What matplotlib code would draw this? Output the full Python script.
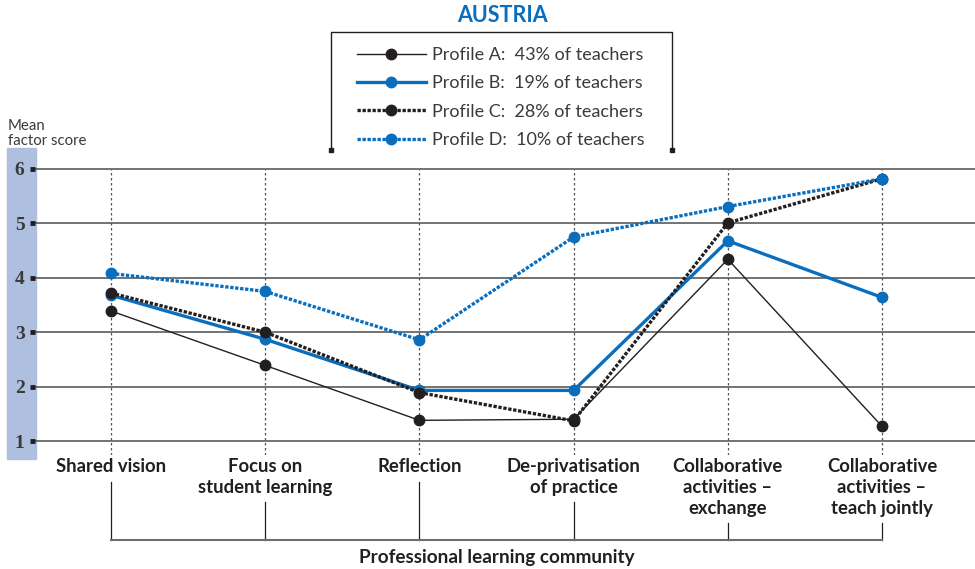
import matplotlib
matplotlib.use("Agg")
import matplotlib.pyplot as plt
from matplotlib.lines import Line2D
from matplotlib.patches import Rectangle

plt.rcParams['font.family'] = ['Lato', 'DejaVu Sans']

categories = ["Shared vision", "Focus on\nstudent learning", "Reflection",
              "De-privatisation\nof practice", "Collaborative\nactivities –\nexchange",
              "Collaborative\nactivities –\nteach jointly"]
profile_a = [3.39, 2.39, 1.38, 1.40, 4.34, 1.27]
profile_b = [3.68, 2.87, 1.93, 1.93, 4.68, 3.64]
profile_c = [3.72, 3.00, 1.89, 1.37, 5.01, 5.82]
profile_d = [4.08, 3.75, 2.86, 4.75, 5.31, 5.82]
labels = ["Profile A:  43% of teachers", "Profile B:  19% of teachers",
          "Profile C:  28% of teachers", "Profile D:  10% of teachers"]
yticks = [1, 2, 3, 4, 5, 6]

W, H = 975, 569
fig = plt.figure(figsize=(W / 100, H / 100), dpi=100)
BLACK = "#231f20"
BLUE = "#0a6ebd"


def fx(p):
    return p / W


def fy(p):
    return 1 - p / H


# blue band behind y tick labels
fig.patches.append(Rectangle((fx(7), fy(459)), fx(29), (459 - 148) / H,
                             transform=fig.transFigure, color="#aebfe0", zorder=-1))

ax = fig.add_axes([fx(35), fy(455), 1 - fx(35), (455 - 160) / H])
ax.set_zorder(1)
ax.set_facecolor("none")
x = list(range(len(categories)))
ylo = 1 - 14 / 54.4
yhi = 6 + 9 / 54.4
ax.set_ylim(ylo, yhi)
ax.set_xlim(-(111 - 35) / 154.2, 5 + (975 - 882) / 154.2)
for s in ax.spines.values():
    s.set_visible(False)

for yv in yticks:
    ax.axhline(yv, color="#4d4d4d", lw=1.1, zorder=1)
ax.vlines(x, ylo, 6, colors="#555555", lw=0.9, linestyles=(0, (2, 2)), zorder=1)

dot = (0, (1.0, 0.5))
ax.plot(x, profile_a, color=BLACK, lw=1.0, marker="o", ms=7.5, zorder=3, label=labels[0])
ax.plot(x, profile_b, color=BLUE, lw=2.4, marker="o", ms=7.5, zorder=3, label=labels[1])
ax.plot(x, profile_c, color=BLACK, lw=2.4, ls=dot, marker="o", ms=7.5, zorder=4, label=labels[2])
ax.plot(x, profile_d, color=BLUE, lw=2.4, ls=dot, marker="o", ms=7.5, zorder=4, label=labels[3])

ax.set_yticks(yticks)
ax.set_yticklabels([str(v) for v in yticks], fontfamily="Liberation Serif",
                   fontweight="bold", fontsize=14, color="#3a3a3a")
ax.tick_params(axis="y", direction="out", length=3.5, width=3.5, color=BLACK, pad=4)
ax.set_xticks(x)
ax.set_xticklabels(categories, fontweight="bold", fontsize=13.3, color=BLACK,
                   linespacing=1.28, va="top")
ax.tick_params(axis="x", length=0, pad=2)


# bracket under categories
def py(p):
    return 1 + (441 - p) / 54.4


tops = [482, 502, 482, 502, 523, 523]
for xi, t in zip(x, tops):
    ax.plot([xi, xi], [py(t), py(540)], color=BLACK, lw=0.9, clip_on=False)
ax.plot([x[0], x[-1]], [py(540), py(540)], color="#6d6d6d", lw=1.5, clip_on=False)
fig.text(fx(497), fy(557), "Professional learning community", ha="center", va="center",
         fontweight="bold", fontsize=13.6, color=BLACK)

# y axis title
fig.text(fx(8), fy(126), "Mean", ha="left", va="center", fontsize=10.8, color="#3a3a3a")
fig.text(fx(8), fy(141), "factor score", ha="left", va="center", fontsize=10.8, color="#3a3a3a")

# title
fig.text(fx(502), fy(15), "AUSTRIA", ha="center", va="center", fontweight="bold",
         fontsize=15.5, color=BLUE)

# legend
handles, lbls = ax.get_legend_handles_labels()
fig.legend(handles, lbls, loc="upper left", bbox_to_anchor=(fx(357), fy(47)),
           frameon=False, fontsize=13, handlelength=3.8, handletextpad=0.35,
           labelspacing=0.68, borderpad=0, borderaxespad=0, labelcolor="#3a3a3a")
fig.lines.append(Line2D([fx(331), fx(331), fx(672), fx(672)],
                        [fy(150), fy(32), fy(32), fy(150)],
                        transform=fig.transFigure, color=BLACK, lw=1.0))
fig.lines.append(Line2D([fx(331), fx(672)], [fy(150), fy(150)], transform=fig.transFigure,
                        ls="none", marker="s", ms=3, color=BLACK))

fig.savefig("out.png", dpi=100)
